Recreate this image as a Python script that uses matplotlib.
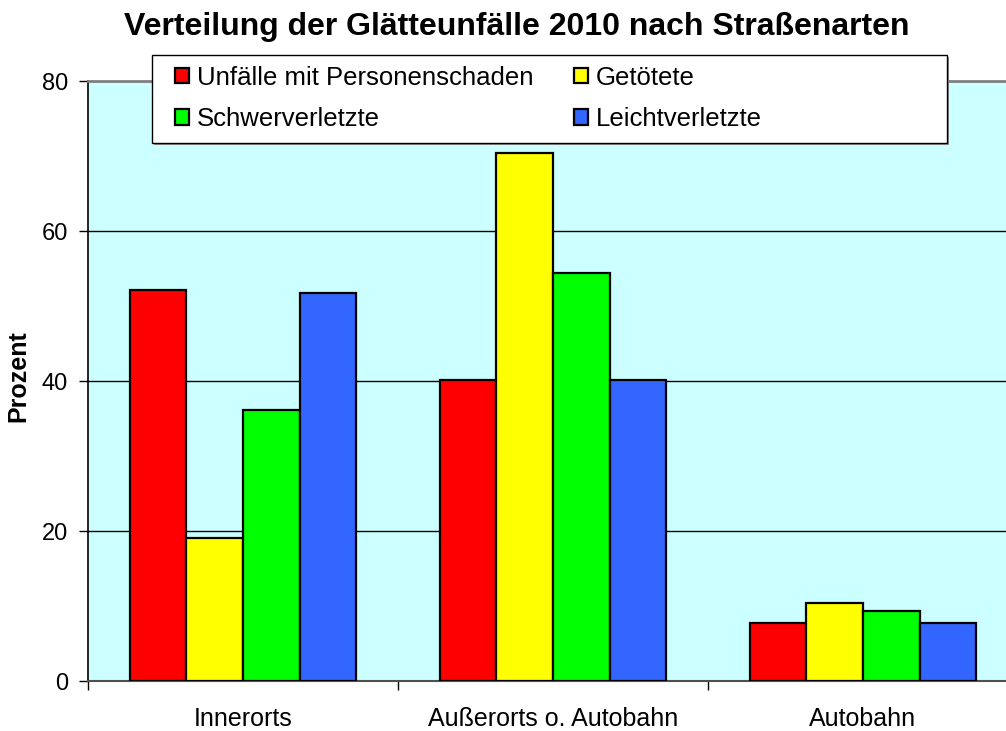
import matplotlib
matplotlib.use("Agg")
import matplotlib.pyplot as plt
import numpy as np
from matplotlib.patches import Rectangle

categories = ["Innerorts", "Außerorts o. Autobahn", "Autobahn"]
series_names = ["Unfälle mit Personenschaden", "Getötete", "Schwerverletzte", "Leichtverletzte"]
unfaelle = [52.2, 40.2, 7.7]
getoetete = [19.1, 70.4, 10.4]
schwer = [36.2, 54.4, 9.3]
leicht = [51.7, 40.2, 7.7]
colors = ["#FF0000", "#FFFF00", "#00FF00", "#3366FF"]
yticks = [0, 20, 40, 60, 80]

plt.rcParams.update({
    "font.family": ["Liberation Sans", "DejaVu Sans"],
    "font.size": 16,
})

W, H = 1006, 731
fig = plt.figure(figsize=(W / 100, H / 100), dpi=100)
ax = fig.add_axes([88 / W, 50 / H, 930 / W, 600 / H])
ax.set_facecolor("#CCFFFF")

x = np.arange(len(categories))
width = 0.183
values = [unfaelle, getoetete, schwer, leicht]
for i, (vals, col, name) in enumerate(zip(values, colors, series_names)):
    ax.bar(x + (i - 1.5) * width, vals, width, color=col, edgecolor="black",
           linewidth=1.6, label=name, zorder=3)

ax.set_xlim(-0.5, 2.5)
ax.set_ylim(0, 80)
ax.set_yticks(yticks)
ax.set_yticklabels([str(t) for t in yticks], fontsize=17)
ax.tick_params(axis="y", length=6.5, width=1, pad=8)
ax.set_xticks(x)
ax.set_xticklabels(categories, fontsize=18)
ax.set_xticks([-0.5, 0.5, 1.5, 2.5], minor=True)
ax.tick_params(axis="x", which="major", length=0, pad=19)
ax.tick_params(axis="x", which="minor", length=6.5, width=1)
ax.yaxis.grid(True, color="black", linewidth=1)
ax.set_axisbelow(True)

ax.spines["top"].set_color("#808080")
ax.spines["top"].set_linewidth(2)
ax.spines["right"].set_visible(False)
ax.spines["left"].set_color("black")
ax.spines["left"].set_linewidth(1.2)
ax.spines["bottom"].set_color("#505050")
ax.spines["bottom"].set_linewidth(1.5)

fig.text(18 / W, 1 - 376 / H, "Prozent", rotation=90, ha="center", va="center",
         fontsize=18, fontweight="bold")
fig.text(516.5 / W, 1 - 27 / H, "Verteilung der Glätteunfälle 2010 nach Straßenarten",
         ha="center", va="center", fontsize=23, fontweight="bold")

# legend box
fig.patches.append(Rectangle((154 / W, 1 - 145 / H), 795 / W, 88 / H,
                             transform=fig.transFigure, facecolor="#909090",
                             edgecolor="none", zorder=4))
fig.patches.append(Rectangle((152 / W, 1 - 143 / H), 795 / W, 88 / H,
                             transform=fig.transFigure, facecolor="white",
                             edgecolor="black", linewidth=1, zorder=4))

handles, labels = ax.get_legend_handles_labels()
for idx, xpos in [((0, 2), 175), ((1, 3), 574)]:
    leg = fig.legend([handles[j] for j in idx], [labels[j] for j in idx],
                     loc="center left", bbox_to_anchor=(xpos / W, 1 - 98.5 / H),
                     frameon=False, fontsize=18.5, handlelength=0.55, handleheight=0.55,
                     handletextpad=0.3, labelspacing=0.68, borderpad=0, borderaxespad=0)
    leg.set_zorder(5)

fig.savefig("out.png", dpi=100)
